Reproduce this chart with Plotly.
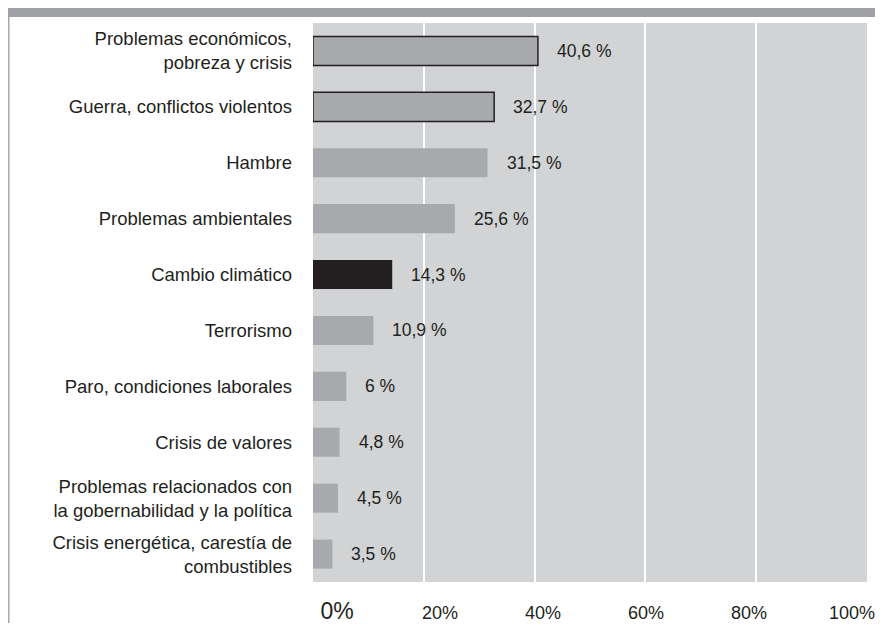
import plotly.graph_objects as go

categories = [
    "Problemas económicos,<br>pobreza y crisis",
    "Guerra, conflictos violentos",
    "Hambre",
    "Problemas ambientales",
    "Cambio climático",
    "Terrorismo",
    "Paro, condiciones laborales",
    "Crisis de valores",
    "Problemas relacionados con<br>la gobernabilidad y la política",
    "Crisis energética, carestía de<br>combustibles",
]
values = [40.6, 32.7, 31.5, 25.6, 14.3, 10.9, 6, 4.8, 4.5, 3.5]
tick_vals = [0, 20, 40, 60, 80, 100]
tick_text = ['<span style="font-size:23px">0%</span>',
             "20%", "40%", "60%", "80%", "100%"]

GRAY = "#a7a9ac"
DARK = "#231f20"
BG = "#d1d3d4"

bar_colors = [GRAY] * len(values)
bar_colors[4] = DARK
line_widths = [0] * len(values)
line_widths[0] = 1.5
line_widths[1] = 1.5


def fmt(v):
    s = ("%g" % v).replace(".", ",")
    return s + " %"


fig = go.Figure()
fig.add_trace(go.Bar(
    x=values, y=categories, orientation="h",
    marker=dict(color=bar_colors, line=dict(color=DARK, width=line_widths)),
    width=0.52, hoverinfo="skip",
))
# invisible trace so the offset label axis gets drawn
fig.add_trace(go.Scatter(x=[0, 100], y=[categories[0]] * 2, mode="none",
                         xaxis="x2", hoverinfo="skip", showlegend=False))

for v, c in zip(values, categories):
    fig.add_annotation(x=v, y=c, text=fmt(v), showarrow=False,
                       xanchor="left", xshift=17,
                       font=dict(family="Liberation Sans", size=17.5, color=DARK))

# header band and left border
fig.add_shape(type="rect", xref="paper", yref="paper",
              x0=-0.56, x1=1.04, y0=1.0107, y1=1.03,
              fillcolor="#a0a1a4", line_width=0, layer="above")
fig.add_shape(type="line", xref="paper", yref="paper",
              x0=-0.5492, x1=-0.5492, y0=1.0107, y1=-0.12,
              line=dict(color="#a7a9ac", width=1.5))

fig.update_layout(
    width=867, height=615,
    margin=dict(l=305, r=8, t=15, b=41, autoexpand=False),
    paper_bgcolor="white", plot_bgcolor=BG,
    showlegend=False,
    bargap=0.48,
    xaxis=dict(range=[0, 100], tickvals=tick_vals, showticklabels=False,
               showgrid=True, gridcolor="white", gridwidth=2,
               zeroline=False, showline=False, fixedrange=True),
    xaxis2=dict(overlaying="x", side="bottom", anchor="y", automargin=False,
                range=[-4.66, 102.91], tickvals=tick_vals, ticktext=tick_text,
                showgrid=False, zeroline=False, showline=False,
                ticks="", ticklabelstandoff=18, ticklabeloverflow="allow",
                tickfont=dict(family="Liberation Sans", size=18, color=DARK)),
    yaxis=dict(autorange="reversed", showgrid=False, zeroline=False,
               ticks="", ticklabelstandoff=20, automargin=False,
               tickfont=dict(family="Liberation Sans", size=18.5, color=DARK)),
)

fig.write_html("out.html")
